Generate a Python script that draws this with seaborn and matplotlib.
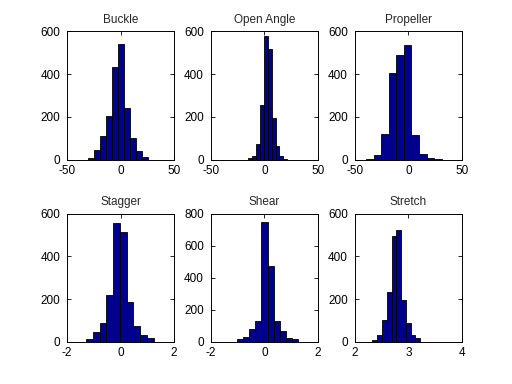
import numpy as np
import pandas as pd
import matplotlib
matplotlib.use("Agg")
import matplotlib.pyplot as plt
import seaborn as sns

# ---- data ----
titles = ["Buckle", "Open Angle", "Propeller", "Stagger", "Shear", "Stretch"]

buckle_counts = [8, 44, 111, 206, 435, 540, 240, 102, 40, 14]
open_angle_counts = [8, 16, 73, 254, 580, 520, 195, 62, 18, 4]
propeller_counts = [4, 20, 120, 408, 490, 538, 116, 26, 8, 3]
stagger_counts = [14, 47, 90, 217, 555, 512, 184, 72, 33, 19]
shear_counts = [16, 30, 82, 132, 750, 475, 130, 68, 25, 19]
stretch_counts = [8, 33, 104, 231, 494, 524, 197, 89, 30, 19]

# data range covered by the 10 histogram bins
buckle_range = (-30.4, 25.6)
open_angle_range = (-15.0, 21.2)
propeller_range = (-39.6, 31.3)
stagger_range = (-1.29, 1.24)
shear_range = (-1.02, 1.25)
stretch_range = (2.33, 3.22)

# axis limits / ticks
xlims = [(-50, 50), (-50, 50), (-50, 50), (-2, 2), (-2, 2), (2, 4)]
xticks = [[-50, 0, 50], [-50, 0, 50], [-50, 0, 50], [-2, 0, 2], [-2, 0, 2], [2, 3, 4]]
ylims = [(0, 600), (0, 600), (0, 600), (0, 600), (0, 800), (0, 600)]
yticks = [[0, 200, 400, 600], [0, 200, 400, 600], [0, 200, 400, 600],
          [0, 200, 400, 600], [0, 200, 400, 600, 800], [0, 200, 400, 600]]

counts_all = [buckle_counts, open_angle_counts, propeller_counts,
              stagger_counts, shear_counts, stretch_counts]
ranges_all = [buckle_range, open_angle_range, propeller_range,
              stagger_range, shear_range, stretch_range]

# ---- style ----
sns.set_theme(style="white")
plt.rcParams["font.family"] = ["Liberation Sans", "DejaVu Sans"]
plt.rcParams["axes.unicode_minus"] = False

fig = plt.figure(figsize=(5.12, 3.84), dpi=100)
fig.patch.set_facecolor("white")

lefts = [0.131, 0.412, 0.693]
bottoms = [0.584, 0.110]
w, h = 0.209, 0.334

bar_color = (0.0, 0.0, 0.5625)
fs = 8.5

for i in range(6):
    r, c = divmod(i, 3)
    ax = fig.add_axes([lefts[c], bottoms[r], w, h])
    lo, hi = ranges_all[i]
    step = (hi - lo) / 10
    df = pd.DataFrame({"center": [lo + step * (k + 0.5) for k in range(10)],
                       "count": counts_all[i]})
    sns.histplot(data=df, x="center", weights="count", bins=10,
                 binrange=(lo, hi), ax=ax,
                 color=bar_color, edgecolor="black", linewidth=0.6,
                 alpha=1.0, stat="count")
    ax.set_xlim(*xlims[i])
    ax.set_ylim(*ylims[i])
    ax.set_xticks(xticks[i])
    ax.set_yticks(yticks[i])
    ax.set_xlabel("")
    ax.set_ylabel("")
    ax.set_title(titles[i], fontsize=fs, pad=6)
    ax.tick_params(direction="in", length=3, width=0.6, labelsize=fs,
                   top=True, right=True, bottom=True, left=True,
                   colors="black")
    ax.tick_params(axis="x", pad=3.5)
    ax.tick_params(axis="y", pad=5)
    for s in ax.spines.values():
        s.set_visible(True)
        s.set_color("black")
        s.set_linewidth(0.7)
    ax.set_facecolor("white")

fig.savefig("out.png", dpi=100, facecolor="white")
